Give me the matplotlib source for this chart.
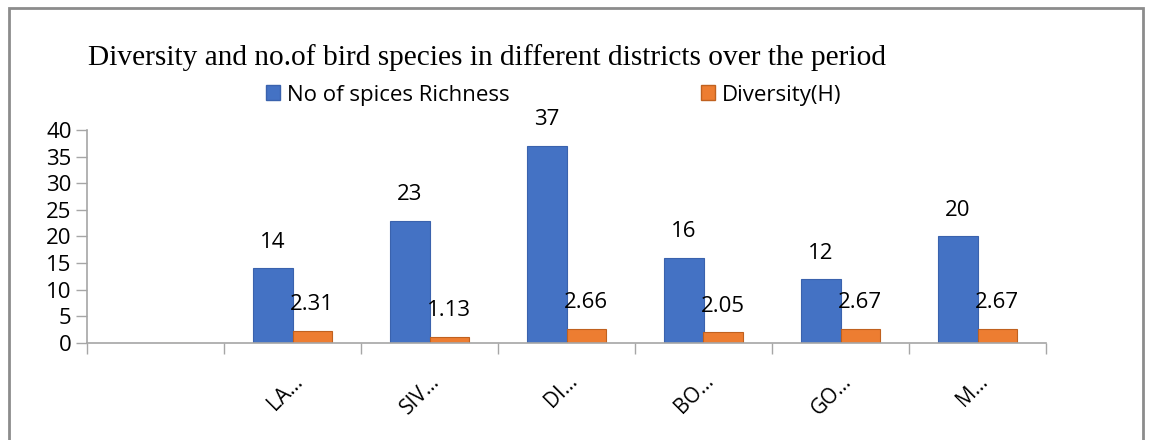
import matplotlib
matplotlib.use('Agg')
import matplotlib.pyplot as plt
from matplotlib.patches import Rectangle, Patch
import numpy as np

districts = ['', 'LA…', 'SIV…', 'DI…', 'BO…', 'GO…', 'M…']
richness = [0, 14, 23, 37, 16, 12, 20]
diversity = [0, 2.31, 1.13, 2.66, 2.05, 2.67, 2.67]
richness_labels = ['', '14', '23', '37', '16', '12', '20']
diversity_labels = ['', '2.31', '1.13', '2.66', '2.05', '2.67', '2.67']

BLUE = '#4472C4'
ORANGE = '#ED7D31'
GRAY = '#A6A6A6'
FONT = ['Open Sans', 'DejaVu Sans']

fig = plt.figure(figsize=(11.6, 4.4), dpi=100)
ax = fig.add_axes([87 / 1160, 1 - 343 / 440, (1046 - 87) / 1160, (343 - 130) / 440])

x = np.arange(len(districts))
w = 0.29
ax.bar(x - w / 2, richness, w, color=BLUE, edgecolor='#3A62AD', linewidth=0.8,
       label='No of spices Richness')
ax.bar(x + w / 2, diversity, w, color=ORANGE, edgecolor='#C0611F', linewidth=0.8,
       label='Diversity(H)')

for i in range(len(districts)):
    if richness_labels[i]:
        ax.annotate(richness_labels[i], (x[i] - w / 2, richness[i]), xytext=(0, 26),
                    textcoords='offset pixels', ha='center', va='center',
                    fontsize=16, family=FONT)
    if diversity_labels[i]:
        ax.annotate(diversity_labels[i], (x[i] + w / 2, diversity[i]), xytext=(0, 26),
                    textcoords='offset pixels', ha='center', va='center',
                    fontsize=16, family=FONT)

ax.set_xlim(-0.5, len(districts) - 0.5)
ax.set_ylim(0, 40)
ax.set_yticks(range(0, 41, 5))
ax.set_xticks(x)
ax.set_xticklabels(districts, rotation=45, ha='right', va='top',
                   rotation_mode='anchor', fontsize=15, family=FONT)
ax.set_xticks(np.arange(-0.5, len(districts)), minor=True)
ax.tick_params(axis='x', which='major', length=0, pad=20)
ax.tick_params(axis='x', which='minor', length=8, color=GRAY, width=1)
ax.tick_params(axis='y', length=8, color=GRAY, width=1, labelsize=16, pad=3)
for lab in ax.get_yticklabels():
    lab.set_family(FONT)

for side in ['top', 'right']:
    ax.spines[side].set_visible(False)
for side in ['bottom', 'left']:
    ax.spines[side].set_color(GRAY)
    ax.spines[side].set_linewidth(1.2)

fig.text(88 / 1160, 1 - 65 / 440, 'Diversity and no.of bird species in different districts over the period',
         fontsize=21.2, family='Liberation Serif', va='baseline', ha='left')

handles = [Patch(facecolor=BLUE, edgecolor='#3A62AD'), Patch(facecolor=ORANGE, edgecolor='#C0611F')]
fig.legend(handles, ['No of spices Richness', 'Diversity(H)'], ncol=2, frameon=False,
           loc='center left', bbox_to_anchor=(266 / 1160, 1 - 95 / 440),
           prop={'family': FONT, 'size': 16}, handlelength=0.65, handleheight=0.65,
           handletextpad=0.3, columnspacing=8.6, borderaxespad=0, borderpad=0)

fig.patches.append(Rectangle((9 / 1160, -0.05), (1143 - 9) / 1160, 1.05 - 8 / 440,
                             transform=fig.transFigure, fill=False,
                             edgecolor='#8C8C8C', linewidth=2))

fig.savefig('out.png', dpi=100)
